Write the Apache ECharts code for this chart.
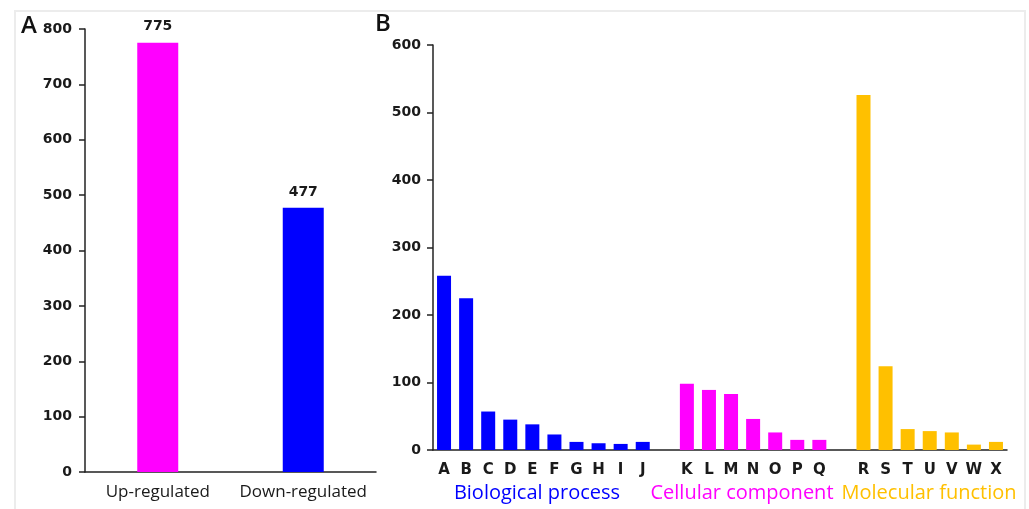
<!DOCTYPE html>
<html>
<head>
<meta charset="utf-8">
<script src="https://cdn.jsdelivr.net/npm/echarts@6/dist/echarts.min.js"></script>
<style>
html,body{margin:0;padding:0;background:#fff;}
#c{width:1029px;height:509px;}
</style>
</head>
<body>
<div id="c"></div>
<script>
// ---- data ----
const degCategories = ['Up-regulated', 'Down-regulated'];
const degValues = [775, 477];
const degColors = ['#FF00FF', '#0000FF'];

const bioLetters = ['A','B','C','D','E','F','G','H','I','J'];
const bioValues = [258, 225, 57, 45, 38, 23, 12, 10, 9, 12];
const cellLetters = ['K','L','M','N','O','P','Q'];
const cellValues = [98, 89, 83, 46, 26, 15, 15];
const molLetters = ['R','S','T','U','V','W','X'];
const molValues = [526, 124, 31, 28, 26, 8, 12];
const groupNames = ['Biological process', 'Cellular component', 'Molecular function'];
const groupColors = ['#0000FF', '#FF00FF', '#FFC000'];

const yTicksA = [0, 800, 100];
const yTicksB = [0, 600, 100];

// ---- build panel B categories with gaps ----
const goCats = [];
const goData = [];
[[bioLetters, bioValues], [cellLetters, cellValues], [molLetters, molValues]].forEach((g, gi) => {
  if (gi > 0) { goCats.push(' '.repeat(gi)); goData.push(null); }
  g[0].forEach((l, i) => {
    goCats.push(l);
    goData.push({ value: g[1][i], itemStyle: { color: groupColors[gi] } });
  });
});

const axisCol = '#222';
const numFont = { fontFamily: 'DejaVu Sans', fontWeight: 'bold', fontSize: 14, color: '#1a1a1a' };

const chart = echarts.init(document.getElementById('c'), null, { renderer: 'canvas' });
chart.setOption({
  animation: false,
  backgroundColor: '#fff',
  grid: [
    { left: 85, top: 29, width: 291, height: 443 },
    { left: 433, top: 45, width: 574, height: 405 }
  ],
  xAxis: [
    {
      type: 'category', gridIndex: 0, data: degCategories,
      axisLine: { lineStyle: { color: axisCol, width: 1.5 } },
      axisTick: { alignWithLabel: true, length: 5, lineStyle: { color: axisCol, width: 1.5 } },
      axisLabel: { interval: 0, margin: 12, fontFamily: 'Open Sans', fontWeight: 500, fontSize: 17, color: '#1a1a1a' }
    },
    {
      type: 'category', gridIndex: 1, data: goCats,
      axisLine: { lineStyle: { color: axisCol, width: 1.5 } },
      axisTick: { alignWithLabel: true, interval: 0, length: 4, lineStyle: { color: axisCol, width: 1.5 } },
      axisLabel: { interval: 0, margin: 13, fontFamily: 'DejaVu Sans', fontWeight: 'bold', fontSize: 15, color: '#1a1a1a' }
    }
  ],
  yAxis: [
    {
      type: 'value', gridIndex: 0, min: yTicksA[0], max: yTicksA[1], interval: yTicksA[2],
      splitLine: { show: false },
      axisLine: { show: true, lineStyle: { color: axisCol, width: 1.5 } },
      axisTick: { show: true, length: 6, lineStyle: { color: axisCol, width: 1.5 } },
      axisLabel: Object.assign({ margin: 13 }, numFont)
    },
    {
      type: 'value', gridIndex: 1, min: yTicksB[0], max: yTicksB[1], interval: yTicksB[2],
      splitLine: { show: false },
      axisLine: { show: true, lineStyle: { color: axisCol, width: 1.5 } },
      axisTick: { show: true, length: 6, lineStyle: { color: axisCol, width: 1.5 } },
      axisLabel: Object.assign({ margin: 12 }, numFont)
    }
  ],
  series: [
    {
      type: 'bar', xAxisIndex: 0, yAxisIndex: 0, barWidth: 41,
      data: degValues.map((v, i) => ({ value: v, itemStyle: { color: degColors[i] } })),
      label: Object.assign({ show: true, position: 'top', distance: 9 }, numFont)
    },
    {
      type: 'bar', xAxisIndex: 1, yAxisIndex: 1, barWidth: 14,
      data: goData
    }
  ],
  graphic: [
    { type: 'rect', shape: { x: 15, y: 11, width: 1010, height: 510 }, style: { fill: 'none', stroke: '#ececec', lineWidth: 2 }, silent: true, z: -1 },
    { type: 'text', left: 21, top: 14, style: { text: 'A', font: '600 24px "Open Sans"', fill: '#111' } },
    { type: 'text', left: 375, top: 12, style: { text: 'B', font: '600 24px "Open Sans"', fill: '#111' } },
    { type: 'text', x: 537, y: 493, style: { text: groupNames[0], font: '20px "Open Sans"', fill: groupColors[0], align: 'center', verticalAlign: 'middle' } },
    { type: 'text', x: 742, y: 493, style: { text: groupNames[1], font: '20px "Open Sans"', fill: groupColors[1], align: 'center', verticalAlign: 'middle' } },
    { type: 'text', x: 929, y: 493, style: { text: groupNames[2], font: '20px "Open Sans"', fill: groupColors[2], align: 'center', verticalAlign: 'middle' } }
  ]
});
</script>
</body>
</html>
